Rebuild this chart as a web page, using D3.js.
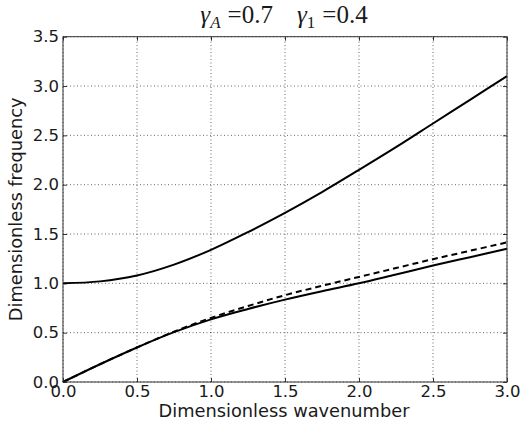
<!DOCTYPE html>
<html>
<head>
<meta charset="utf-8">
<script src="https://cdn.jsdelivr.net/npm/d3@7"></script>
<style>
  body { margin: 0; background: #fff; }
  svg text { fill: #1a1a1a; }
</style>
</head>
<body>
<svg id="chart" width="520" height="426"></svg>
<script>
// Dispersion branches sampled along the dimensionless wavenumber
const wavenumber   = [0, 0.25, 0.5, 0.75, 1.0, 1.25, 1.5, 1.75, 2.0, 2.25, 2.5, 2.75, 3.0];
const upperBranch  = [1.0, 1.02, 1.08, 1.19, 1.34, 1.52, 1.715, 1.925, 2.15, 2.38, 2.62, 2.86, 3.10];
const lowerBranch  = [0, 0.18, 0.35, 0.505, 0.635, 0.74, 0.835, 0.92, 1.0, 1.09, 1.18, 1.265, 1.35];
const approxBranch = [0, 0.18, 0.35, 0.51, 0.65, 0.77, 0.88, 0.975, 1.065, 1.155, 1.245, 1.33, 1.415];

const xTicks = [0, 0.5, 1.0, 1.5, 2.0, 2.5, 3.0];
const yTicks = [0, 0.5, 1.0, 1.5, 2.0, 2.5, 3.0, 3.5];

const svg = d3.select("#chart");
const m = { left: 63, right: 13, top: 36.7, bottom: 44 };
const W = 520, H = 426;

const x = d3.scaleLinear().domain([0, 3]).range([m.left, W - m.right]);
const y = d3.scaleLinear().domain([0, 3.5]).range([H - m.bottom, m.top]);

const tickFont = "'DejaVu Sans', sans-serif";

// dotted grid
const grid = svg.append("g");
grid.selectAll("line.gx").data(xTicks).join("line")
  .attr("x1", d => x(d)).attr("x2", d => x(d))
  .attr("y1", y(0)).attr("y2", y(3.5))
  .attr("stroke", "#000").attr("stroke-width", 0.6)
  .attr("stroke-dasharray", "1,2.5");
grid.selectAll("line.gy").data(yTicks).join("line")
  .attr("y1", d => y(d)).attr("y2", d => y(d))
  .attr("x1", x(0)).attr("x2", x(3))
  .attr("stroke", "#000").attr("stroke-width", 0.6)
  .attr("stroke-dasharray", "1,2.5");

// curves
const line = (vals) => d3.line()
  .x((d, i) => x(wavenumber[i]))
  .y(d => y(d))
  .curve(d3.curveCatmullRom.alpha(0.5))(vals);

const curves = svg.append("g").attr("fill", "none").attr("stroke", "#000").attr("stroke-width", 2);
curves.append("path").attr("d", line(upperBranch));
curves.append("path").attr("d", line(lowerBranch));
curves.append("path").attr("d", line(approxBranch)).attr("stroke-dasharray", "6,4");

// axes: inward ticks on all sides, labels bottom and left
const xb = svg.append("g").attr("transform", `translate(0,${y(0)})`)
  .call(d3.axisBottom(x).tickValues(xTicks).tickSize(-4).tickPadding(3).tickFormat(d3.format(".1f")));
const xt = svg.append("g").attr("transform", `translate(0,${y(3.5)})`)
  .call(d3.axisTop(x).tickValues(xTicks).tickSize(-4).tickFormat(""));
const yl = svg.append("g").attr("transform", `translate(${x(0)},0)`)
  .call(d3.axisLeft(y).tickValues(yTicks).tickSize(-4).tickPadding(4).tickFormat(d3.format(".1f")));
const yr = svg.append("g").attr("transform", `translate(${x(3)},0)`)
  .call(d3.axisRight(y).tickValues(yTicks).tickSize(-4).tickFormat(""));

[xb, xt, yl, yr].forEach(g => {
  g.select(".domain").remove();
  g.selectAll(".tick line").attr("stroke", "#000").attr("stroke-width", 0.8);
  g.selectAll(".tick text").attr("font-family", tickFont).attr("font-size", 16.5).attr("fill", "#1a1a1a");
});

// frame
svg.append("rect")
  .attr("x", x(0)).attr("y", y(3.5))
  .attr("width", x(3) - x(0)).attr("height", y(0) - y(3.5))
  .attr("fill", "none").attr("stroke", "#333").attr("stroke-width", 1);

// axis titles
svg.append("text")
  .attr("x", (x(0) + x(3)) / 2 - 1).attr("y", 417)
  .attr("text-anchor", "middle")
  .attr("font-family", tickFont).attr("font-size", 17.8)
  .text("Dimensionless wavenumber");

svg.append("text")
  .attr("transform", `translate(22,${(y(0) + y(3.5)) / 2}) rotate(-90)`)
  .attr("text-anchor", "middle")
  .attr("font-family", tickFont).attr("font-size", 17.8)
  .text("Dimensionless frequency");

// title with parameter values
const title = svg.append("text")
  .attr("x", (x(0) + x(3)) / 2 - 1).attr("y", 23)
  .attr("text-anchor", "middle")
  .attr("font-family", "'Liberation Serif', 'DejaVu Serif', serif")
  .attr("font-size", 25);
title.append("tspan").attr("font-style", "italic").text("γ");
title.append("tspan").attr("font-style", "italic").attr("font-size", 17).attr("dy", 5).text("A");
title.append("tspan").attr("dy", -5).attr("dx", 7).text("=0.7");
title.append("tspan").attr("dx", 24).attr("font-style", "italic").text("γ");
title.append("tspan").attr("font-size", 17).attr("dy", 5).text("1");
title.append("tspan").attr("dy", -5).attr("dx", 7).text("=0.4");
</script>
</body>
</html>
